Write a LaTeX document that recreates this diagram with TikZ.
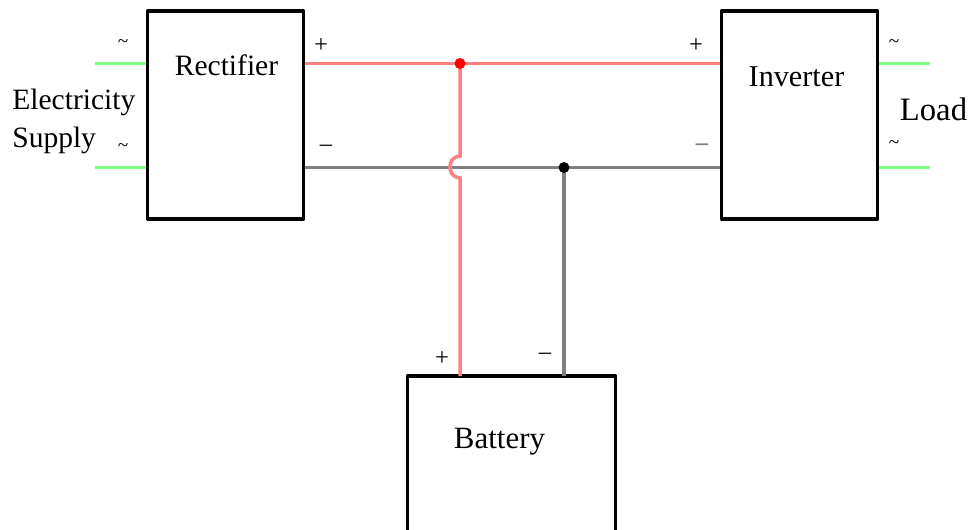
\documentclass[tikz,border=0pt]{standalone}
\usepackage{fontspec}
\setmainfont{Liberation Serif}
\definecolor{poswire}{RGB}{255,128,128}
\definecolor{negwire}{RGB}{128,128,128}
\definecolor{acwire}{RGB}{128,255,128}
\tikzset{
	block/.style={draw, line width=0.07cm, line join=round, minimum width=3.12cm, minimum height=4.16cm, inner sep=0pt},
	name text/.style={inner sep=0pt, font=\fontsize{16.8}{18}\selectfont},
	sign/.style={inner sep=0pt, font=\fontsize{14}{16}\selectfont},
	tilde/.style={inner sep=0pt, font=\fontsize{11}{12}\selectfont},
	wire/.style={line width=0.07cm},
}
\begin{document}
\begin{tikzpicture}[x=0.02cm,y=-0.02cm]
	\useasboundingbox (0,0) rectangle (970,530);
	% blocks
	\node[block] (rectifier) at (225.5,115) {};
	\node[block] (inverter) at (799.5,115) {};
	\node[block, minimum width=4.16cm, minimum height=3.6cm] (battery) at (511.5,466) {};
	% ports
	\coordinate (recplus) at (rectifier.east |- 0,63.5);
	\coordinate (recminus) at (rectifier.east |- 0,167.5);
	\coordinate (invplus) at (inverter.west |- 0,63.5);
	\coordinate (invminus) at (inverter.west |- 0,167.5);
	\coordinate (batplus) at (460,376);
	\coordinate (batminus) at (564,376);
	\coordinate (posdot) at (460,63.5);
	\coordinate (negdot) at (564,167.5);
	\coordinate (acina) at (95,63.5);
	\coordinate (acinb) at (95,167.5);
	\coordinate (acouta) at (930,63.5);
	\coordinate (acoutb) at (930,167.5);
	% wires
	\draw[wire, acwire] (acina) -- (rectifier.west |- acina);
	\draw[wire, acwire] (acinb) -- (rectifier.west |- acinb);
	\draw[wire, acwire] (inverter.east |- acouta) -- (acouta);
	\draw[wire, acwire] (inverter.east |- acoutb) -- (acoutb);
	\draw[wire, negwire] (recminus) -- (invminus);
	\draw[wire, negwire] (negdot) -- (batminus);
	\draw[wire, poswire] (recplus) -- (invplus);
	\draw[wire, poswire] (posdot) -- (460,156) .. controls (452,157) and (450,162) .. (450,167) .. controls (450,172) and (452,177) .. (460,178) -- (batplus);
	\fill[red] (posdot) circle (5.5);
	\fill[black] (negdot) circle (5.5);
	% labels
	\node[name text] (rectext) at (226.5,65.5) {Rectifier};
	\node[name text, font=\fontsize{17.2}{18}\selectfont] (invtext) at (796.5,76.5) {Inverter};
	\node[name text, font=\fontsize{17.6}{18}\selectfont] (battext) at (499.5,442) {Battery};
	\node[name text, anchor=base west] (supplya) at (12,110) {Electricity};
	\node[name text, anchor=base west] (supplyb) at (12,148) {Supply};
	\node[name text, font=\fontsize{18.6}{20}\selectfont] (load) at (933.5,109) {Load};
	\node[tilde] (tila) at (123,44) {\textasciitilde};
	\node[tilde] (tilb) at (123,148) {\textasciitilde};
	\node[tilde] (tilc) at (894,44) {\textasciitilde};
	\node[tilde] (tild) at (894,145) {\textasciitilde};
	\node[sign] (recp) at (321,46) {+};
	\node[sign] (invp) at (696,46) {+};
	\node[sign] (batp) at (442,359) {+};
	\node[sign] (recm) at (326,148) {\textendash};
	\node[sign, negwire] (invm) at (702,147) {\textbf{\textendash}};
	\node[sign] (batm) at (545,356) {\textendash};
\end{tikzpicture}
\end{document}
